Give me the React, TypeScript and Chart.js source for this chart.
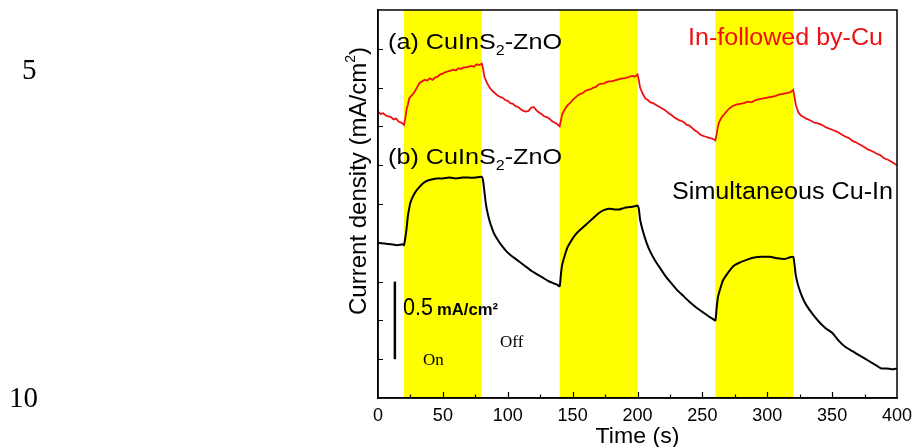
import React, { useEffect, useRef } from "react";
import { Chart, registerables } from "chart.js";

Chart.register(...registerables);

// Illumination periods (s)
const lightOnStart = [20, 140, 260];
const lightOnEnd = [80, 200, 320];

const xTickValues = [0, 50, 100, 150, 200, 250, 300, 350, 400];

// (a) In-followed by-Cu  (red)
const redTime = [
  0, 2, 4, 6, 8, 10, 12, 14, 16, 18, 20,
  21, 22, 23, 24, 26, 28, 30, 32, 34, 36, 38, 40, 42, 44, 46, 48, 50, 52, 54, 56, 58, 60, 62, 64, 66, 68, 70, 72, 74, 76, 78, 80,
  81, 82, 84, 86, 88, 90, 92, 94, 96, 98, 100, 102, 104, 106, 108, 110, 112, 114, 116, 118, 120, 122, 124, 126, 128, 130, 132, 134, 136, 138, 140,
  141, 142, 144, 146, 148, 150, 152, 154, 156, 158, 160, 162, 164, 166, 168, 170, 172, 174, 176, 178, 180, 182, 184, 186, 188, 190, 192, 194, 196, 198, 200,
  201, 202, 204, 206, 208, 210, 212, 214, 216, 218, 220, 222, 224, 226, 228, 230, 232, 234, 236, 238, 240, 242, 244, 246, 248, 250, 252, 254, 256, 258, 260,
  261, 262, 263, 265, 267, 270, 273, 276, 279, 282, 285, 288, 291, 294, 297, 300, 303, 306, 309, 312, 315, 318, 320,
  321, 322, 324, 326, 328, 330, 333, 336, 339, 342, 345, 348, 351, 354, 357, 360, 363, 366, 369, 372, 375, 378, 381, 384, 387, 390, 393, 396, 399, 400,
];
const redValues = [
  1.845, 1.83, 1.835, 1.82, 1.815, 1.81, 1.795, 1.8, 1.78, 1.775, 1.76,
  1.8, 1.86, 1.89, 1.93, 1.95, 1.97, 2.0, 2.03, 2.04, 2.05, 2.045, 2.06, 2.05, 2.065, 2.07, 2.085, 2.09, 2.1, 2.105, 2.11, 2.115, 2.11, 2.125, 2.12, 2.13, 2.13, 2.135, 2.14, 2.135, 2.15, 2.145, 2.155,
  2.12, 2.07, 2.03, 2.0, 1.98, 1.965, 1.95, 1.94, 1.935, 1.92, 1.915, 1.9, 1.895, 1.88, 1.875, 1.86, 1.85, 1.845, 1.85, 1.87, 1.875, 1.855, 1.84, 1.83, 1.815, 1.81, 1.8, 1.785, 1.775, 1.765, 1.75,
  1.79, 1.83, 1.86, 1.885, 1.9, 1.92, 1.935, 1.95, 1.96, 1.965, 1.98, 1.985, 1.99, 2.0, 2.005, 2.02, 2.025, 2.025, 2.035, 2.04, 2.04, 2.045, 2.05, 2.055, 2.06, 2.06, 2.065, 2.07, 2.075, 2.07, 2.085,
  2.05, 2.0, 1.96, 1.93, 1.92, 1.905, 1.9, 1.89, 1.88, 1.87, 1.86, 1.85, 1.835, 1.825, 1.81, 1.8, 1.79, 1.785, 1.775, 1.76, 1.755, 1.74, 1.725, 1.715, 1.7, 1.69, 1.685, 1.68, 1.675, 1.67, 1.66,
  1.7, 1.75, 1.78, 1.81, 1.83, 1.86, 1.88, 1.89, 1.895, 1.9, 1.91, 1.905, 1.92, 1.925, 1.93, 1.935, 1.94, 1.945, 1.955, 1.96, 1.965, 1.97, 1.985,
  1.94, 1.89, 1.84, 1.82, 1.81, 1.8, 1.79, 1.775, 1.77, 1.76, 1.745, 1.735, 1.725, 1.715, 1.7, 1.685, 1.675, 1.655, 1.645, 1.63, 1.615, 1.6, 1.59, 1.575, 1.565, 1.545, 1.535, 1.52, 1.505, 1.5,
];

// (b) Simultaneous Cu-In  (black)
const blackTime = [
  0, 5, 10, 15, 19, 20, 21, 22, 23, 24, 25, 27, 29, 32, 35, 38, 42, 46, 50, 55, 60, 65, 70, 75, 80,
  81, 82, 83, 84, 86, 88, 90, 93, 96, 99, 103, 107, 111, 115, 119, 123, 127, 131, 135, 138, 140,
  141, 142, 144, 146, 148, 151, 154, 158, 162, 166, 170, 174, 178, 182, 186, 190, 194, 198, 200,
  201, 202, 204, 207, 210, 214, 218, 222, 226, 230, 235, 240, 245, 250, 255, 258, 260,
  261, 262, 264, 266, 270, 274, 278, 284, 290, 296, 302, 308, 313, 317, 320,
  321, 322, 324, 327, 330, 335, 340, 345, 350, 355, 360, 366, 372, 378, 384, 388, 392, 396, 400,
];
const blackValues = [
  1.0, 0.995, 0.99, 0.985, 0.99, 0.985, 1.03, 1.09, 1.17, 1.22, 1.26, 1.3, 1.33, 1.36, 1.385, 1.4, 1.41, 1.415, 1.415, 1.42, 1.415, 1.42, 1.42, 1.42, 1.425,
  1.4, 1.33, 1.26, 1.21, 1.14, 1.09, 1.05, 1.01, 0.975, 0.945, 0.915, 0.89, 0.865, 0.84, 0.815, 0.795, 0.775, 0.755, 0.74, 0.73, 0.72,
  0.8, 0.86, 0.92, 0.97, 1.0, 1.04, 1.07, 1.1, 1.13, 1.16, 1.19, 1.21, 1.22, 1.215, 1.215, 1.225, 1.23, 1.235, 1.24,
  1.22, 1.15, 1.08, 1.0, 0.94, 0.88, 0.83, 0.78, 0.74, 0.7, 0.66, 0.62, 0.585, 0.555, 0.525, 0.51, 0.5,
  0.58, 0.65, 0.71, 0.76, 0.81, 0.85, 0.87, 0.89, 0.905, 0.91, 0.91, 0.9, 0.895, 0.905, 0.91,
  0.86, 0.79, 0.72, 0.65, 0.6, 0.54, 0.49, 0.45, 0.42, 0.37, 0.33, 0.3, 0.27, 0.24, 0.21, 0.19, 0.19, 0.185, 0.19,
];

// Scale bar: 0.5 mA/cm2 drawn between these y values at this time
const scaleBarFrom = 0.25;
const scaleBarTo = 0.75;
const scaleBarTime = 13;

const SANS = '"Liberation Sans", Arial, sans-serif';
const SERIF = '"Liberation Serif", "Times New Roman", serif';

type Part = { t: string; font: string; dy?: number };

function drawRich(
  ctx: CanvasRenderingContext2D,
  parts: Part[],
  x: number,
  y: number,
  color: string,
  targetW?: number
) {
  ctx.save();
  let total = 0;
  const widths = parts.map((p) => {
    ctx.font = p.font;
    const w = ctx.measureText(p.t).width;
    total += w;
    return w;
  });
  const s = targetW ? targetW / total : 1;
  ctx.translate(x, y);
  ctx.scale(s, 1);
  ctx.fillStyle = color;
  ctx.textBaseline = "alphabetic";
  ctx.textAlign = "left";
  let cx = 0;
  parts.forEach((p, i) => {
    ctx.font = p.font;
    ctx.fillText(p.t, cx, p.dy || 0);
    cx += widths[i];
  });
  ctx.restore();
}

const bandsPlugin = {
  id: "bands",
  beforeDraw(chart: any) {
    const { ctx, chartArea, scales } = chart;
    const xs = scales.x;
    ctx.save();
    ctx.fillStyle = "#ffff00";
    for (let i = 0; i < lightOnStart.length; i++) {
      const x0 = xs.getPixelForValue(lightOnStart[i]);
      const x1 = xs.getPixelForValue(lightOnEnd[i]);
      ctx.fillRect(x0, chartArea.top, x1 - x0, chartArea.bottom - chartArea.top);
    }
    ctx.restore();
  },
};

const decorPlugin = {
  id: "decor",
  afterDraw(chart: any) {
    const { ctx, chartArea, scales } = chart;
    const xs = scales.x;
    const ys = scales.y;
    const { left, right, top, bottom } = chartArea;
    ctx.save();
    // frame
    ctx.strokeStyle = "#000";
    ctx.lineWidth = 1.5;
    ctx.strokeRect(left, top, right - left, bottom - top);
    // inward ticks x
    ctx.lineWidth = 1.2;
    ctx.beginPath();
    for (let v = 25; v < 400; v += 25) {
      const px = Math.round(xs.getPixelForValue(v)) + 0.5;
      const len = v % 50 === 0 ? 6 : 3.5;
      ctx.moveTo(px, bottom);
      ctx.lineTo(px, bottom - len);
    }
    // inward ticks y
    for (let v = 0.25; v < 2.49; v += 0.25) {
      const py = Math.round(ys.getPixelForValue(v)) + 0.5;
      ctx.moveTo(left, py);
      ctx.lineTo(left + 5, py);
    }
    ctx.stroke();

    // scale bar
    const bx = xs.getPixelForValue(scaleBarTime);
    ctx.lineWidth = 2.5;
    ctx.beginPath();
    ctx.moveTo(bx, ys.getPixelForValue(scaleBarFrom));
    ctx.lineTo(bx, ys.getPixelForValue(scaleBarTo));
    ctx.stroke();
    ctx.restore();

    // texts
    drawRich(ctx, [{ t: "0.5", font: `23px ${SANS}` }], 403, 315, "#000", 30);
    drawRich(ctx, [{ t: "mA/cm²", font: `bold 16px ${SANS}` }], 437, 315, "#000", 61);
    drawRich(ctx, [{ t: "On", font: `17px ${SERIF}` }], 423, 365, "#000");
    drawRich(ctx, [{ t: "Off", font: `17px ${SERIF}` }], 500, 347, "#000");

    const lab = (s: string): Part[] => [
      { t: s + " CuInS", font: `22px ${SANS}` },
      { t: "2", font: `14px ${SANS}`, dy: 6 },
      { t: "-ZnO", font: `22px ${SANS}` },
    ];
    drawRich(ctx, lab("(a)"), 388, 49, "#000", 174);
    drawRich(ctx, lab("(b)"), 388, 164, "#000", 174);
    drawRich(ctx, [{ t: "In-followed by-Cu", font: `23px ${SANS}` }], 688, 45, "#ee1111", 195);
    drawRich(ctx, [{ t: "Simultaneous Cu-In", font: `23px ${SANS}` }], 672, 199, "#000", 221);

    // x title
    ctx.save();
    ctx.font = `22px ${SANS}`;
    const tw = ctx.measureText("Time (s)").width * 1.05;
    ctx.restore();
    drawRich(ctx, [{ t: "Time (s)", font: `22px ${SANS}` }], (left + right) / 2 - tw / 2, 443, "#000", tw);

    // y title (rotated)
    ctx.save();
    ctx.translate(366, 315);
    ctx.rotate(-Math.PI / 2);
    drawRich(
      ctx,
      [
        { t: "Current density (mA/cm", font: `24px ${SANS}` },
        { t: "2", font: `14px ${SANS}`, dy: -11 },
        { t: ")", font: `24px ${SANS}` },
      ],
      0,
      0,
      "#000",
      268
    );
    ctx.restore();

    // page line numbers
    drawRich(ctx, [{ t: "5", font: `29px ${SERIF}` }], 22, 79, "#000");
    drawRich(ctx, [{ t: "10", font: `29px ${SERIF}` }], 9, 407, "#000");
  },
};

export default function App() {
  const ref = useRef<HTMLCanvasElement | null>(null);
  useEffect(() => {
    if (!ref.current) return;
    const redData = redTime.map((t, i) => ({ x: t, y: redValues[i] }));
    const blackData = blackTime.map((t, i) => ({ x: t, y: blackValues[i] }));
    const chart = new Chart(ref.current, {
      type: "line",
      data: {
        datasets: [
          {
            label: "In-followed by-Cu",
            data: redData,
            borderColor: "#ee1111",
            borderWidth: 1.8,
            pointRadius: 0,
            tension: 0,
          },
          {
            label: "Simultaneous Cu-In",
            data: blackData,
            borderColor: "#000000",
            borderWidth: 2,
            pointRadius: 0,
            tension: 0.2,
          },
        ],
      },
      options: {
        responsive: false,
        animation: false,
        layout: { padding: { top: 10, right: 17, left: 0, bottom: 0 } },
        plugins: { legend: { display: false }, tooltip: { enabled: false } },
        scales: {
          x: {
            type: "linear",
            min: 0,
            max: 400,
            afterBuildTicks: (s: any) => {
              s.ticks = xTickValues.map((v) => ({ value: v }));
            },
            ticks: {
              font: { family: SANS, size: 18 },
              color: "#000",
              padding: 7,
              maxRotation: 0,
              autoSkip: false,
            },
            grid: { drawOnChartArea: false, drawTicks: false },
            border: { color: "#000", width: 1.5 },
            afterFit: (s: any) => {
              s.height = 49;
              s.paddingLeft = 0;
              s.paddingRight = 0;
            },
          },
          y: {
            min: 0,
            max: 2.5,
            ticks: { display: false, stepSize: 0.25 },
            grid: { drawOnChartArea: false, drawTicks: false },
            border: { color: "#000", width: 1.5 },
            afterFit: (s: any) => {
              s.width = 378;
              s.paddingTop = 0;
              s.paddingBottom = 0;
            },
          },
        },
      } as any,
      plugins: [bandsPlugin, decorPlugin],
    });
    return () => chart.destroy();
  }, []);
  return (
    <div style={{ position: "fixed", left: 0, top: 0, width: 914, height: 447, background: "#fff" }}>
      <canvas ref={ref} width={914} height={447} style={{ display: "block" }} />
    </div>
  );
}
